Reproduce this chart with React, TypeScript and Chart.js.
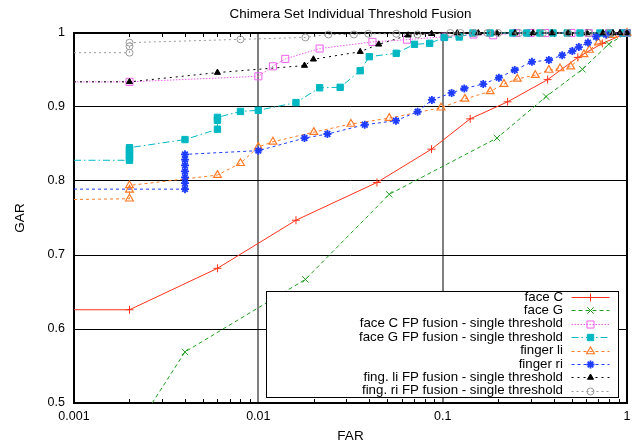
import React, { useEffect, useRef } from 'react';
import { Chart, registerables } from 'chart.js';

Chart.register(...registerables);

const FONT = '"Liberation Sans", Arial, Helvetica, sans-serif';

const TITLE = 'Chimera Set Individual Threshold Fusion';
const X_TITLE = 'FAR';
const Y_TITLE = 'GAR';
const X_MIN = 0.001;
const X_MAX = 1;
const Y_MIN = 0.5;
const Y_MAX = 1;
const Y_STEP = 0.1;
const X_TICK_VALUES = [
  0.001, 0.002, 0.003, 0.004, 0.005, 0.006, 0.007, 0.008, 0.009,
  0.01, 0.02, 0.03, 0.04, 0.05, 0.06, 0.07, 0.08, 0.09,
  0.1, 0.2, 0.3, 0.4, 0.5, 0.6, 0.7, 0.8, 0.9, 1,
];
const X_LABELED = [0.001, 0.01, 0.1, 1];
const X_GRID = [0.01, 0.1];

// face C
const faceC_FAR = [0.001, 0.002, 0.006, 0.016, 0.044, 0.087, 0.141, 0.225, 0.371, 0.541, 0.735, 1];
const faceC_GAR = [0.626, 0.626, 0.682, 0.747, 0.798, 0.843, 0.884, 0.907, 0.937, 0.967, 0.986, 1];

// face G
const faceG_FAR = [0.002, 0.004, 0.018, 0.0513, 0.197, 0.364, 0.573, 0.796, 1];
const faceG_GAR = [0.452, 0.569, 0.667, 0.782, 0.858, 0.914, 0.951, 0.985, 1];

// face C FP fusion
const faceCFP_FAR = [0.001, 0.002, 0.01, 0.012, 0.014, 0.0215, 0.0416, 0.064, 0.102, 0.147, 0.188, 0.25, 0.3, 0.36, 0.5, 0.62, 0.8, 0.95, 1];
const faceCFP_GAR = [0.934, 0.934, 0.9415, 0.955, 0.965, 0.979, 0.988, 0.991, 0.995, 0.998, 0.997, 1, 1, 1, 1, 1, 1, 1, 1];

// face G FP fusion
const faceGFP_FAR = [0.001, 0.002, 0.002, 0.002, 0.002, 0.002, 0.002, 0.004, 0.006, 0.006, 0.006, 0.008, 0.01, 0.016, 0.0215, 0.0278, 0.0357, 0.04, 0.056, 0.0703, 0.085, 0.102, 0.123, 0.146, 0.181, 0.24, 0.286, 0.337, 0.397, 0.474, 0.556, 0.712, 0.81, 0.95, 1];
const faceGFP_GAR = [0.828, 0.828, 0.831, 0.835, 0.838, 0.842, 0.845, 0.856, 0.87, 0.882, 0.886, 0.894, 0.8955, 0.906, 0.926, 0.9266, 0.949, 0.968, 0.9726, 0.9847, 0.986, 0.994, 0.9946, 1, 1, 1, 1, 1, 1, 1, 1, 1, 1, 1, 1];

// finger li
const fingerLi_FAR = [0.001, 0.002, 0.002, 0.002, 0.006, 0.008, 0.01, 0.012, 0.02, 0.0318, 0.0513, 0.098, 0.132, 0.181, 0.215, 0.254, 0.318, 0.377, 0.433, 0.495, 0.584, 0.625, 0.7, 0.84, 1];
const fingerLi_GAR = [0.775, 0.776, 0.788, 0.794, 0.808, 0.824, 0.846, 0.853, 0.866, 0.877, 0.885, 0.899, 0.911, 0.921, 0.931, 0.938, 0.943, 0.95, 0.952, 0.9545, 0.971, 0.977, 0.987, 0.997, 1];

// finger ri
const fingerRi_FAR = [0.001, 0.004, 0.004, 0.004, 0.004, 0.004, 0.004, 0.004, 0.01, 0.0178, 0.0237, 0.0378, 0.0558, 0.0731, 0.0874, 0.1118, 0.131, 0.166, 0.2018, 0.246, 0.305, 0.377, 0.445, 0.505, 0.548, 0.614, 0.68, 0.77, 1];
const fingerRi_GAR = [0.789, 0.789, 0.797, 0.805, 0.813, 0.821, 0.829, 0.836, 0.841, 0.858, 0.8635, 0.876, 0.8815, 0.8936, 0.9095, 0.919, 0.925, 0.931, 0.9396, 0.95, 0.961, 0.9635, 0.97, 0.9757, 0.981, 0.987, 0.995, 0.998, 1];

// fing. li FP fusion
const fingLiFP_FAR = [0.001, 0.002, 0.006, 0.0178, 0.0199, 0.0357, 0.045, 0.065, 0.087, 0.12, 0.156, 0.197, 0.247, 0.309, 0.392, 0.479, 0.607, 0.741, 0.84, 0.916, 1];
const fingLiFP_GAR = [0.934, 0.934, 0.9465, 0.956, 0.9645, 0.9747, 0.9847, 0.997, 0.999, 1, 1, 1, 1, 1, 1, 1, 1, 1, 1, 1, 1];

// fing. ri FP fusion
const fingRiFP_FAR = [0.001, 0.002, 0.002, 0.002, 0.008, 0.018, 0.024, 0.033, 0.0395, 0.056, 0.073, 0.11, 0.125, 0.148, 0.175, 0.2, 0.26, 0.35, 0.48, 0.62, 0.8, 1];
const fingRiFP_GAR = [0.9734, 0.9734, 0.982, 0.987, 0.9914, 0.994, 0.998, 0.998, 0.999, 0.999, 0.998, 1, 1, 1, 1, 1, 1, 1, 1, 1, 1, 1];

type Series = {
  label: string;
  far: number[];
  gar: number[];
  color: string;
  dash: number[];
  style: string;
  r: number;
  filled: boolean;
  pw: number;
};

const SERIES: Series[] = [
  { label: 'face C', far: faceC_FAR, gar: faceC_GAR, color: '#ff3219', dash: [], style: 'cross', r: 4, filled: false, pw: 1 },
  { label: 'face G', far: faceG_FAR, gar: faceG_GAR, color: '#1c9e1c', dash: [4, 3], style: 'crossRot', r: 4.5, filled: false, pw: 1 },
  { label: 'face C FP fusion - single threshold', far: faceCFP_FAR, gar: faceCFP_GAR, color: '#f060f0', dash: [1.5, 1.5], style: 'rect', r: 5, filled: false, pw: 1 },
  { label: 'face G FP fusion - single threshold', far: faceGFP_FAR, gar: faceGFP_GAR, color: '#00b8c2', dash: [7, 3, 1.5, 3], style: 'rect', r: 4.5, filled: true, pw: 1 },
  { label: 'finger li', far: fingerLi_FAR, gar: fingerLi_GAR, color: '#ff7a26', dash: [3, 3], style: 'triangle', r: 4.5, filled: false, pw: 1.2 },
  { label: 'finger ri', far: fingerRi_FAR, gar: fingerRi_GAR, color: '#1e3cff', dash: [3, 3], style: 'star', r: 4, filled: false, pw: 1.8 },
  { label: 'fing. li FP fusion - single threshold', far: fingLiFP_FAR, gar: fingLiFP_GAR, color: '#000000', dash: [2, 4], style: 'triangle', r: 3.5, filled: true, pw: 1 },
  { label: 'fing. ri FP fusion - single threshold', far: fingRiFP_FAR, gar: fingRiFP_GAR, color: '#9a9a9a', dash: [2, 3], style: 'circle', r: 3.5, filled: false, pw: 1 },
];

function isIn(v: number, arr: number[]) {
  return arr.some((a) => Math.abs(a - v) < a * 1e-6);
}

function drawMarker(ctx: CanvasRenderingContext2D, s: Series, x: number, y: number) {
  const r = s.r;
  ctx.save();
  ctx.setLineDash([]);
  ctx.strokeStyle = s.color;
  ctx.fillStyle = s.color;
  ctx.lineWidth = s.pw;
  ctx.beginPath();
  if (s.style === 'cross' || s.style === 'star') {
    ctx.moveTo(x - r, y);
    ctx.lineTo(x + r, y);
    ctx.moveTo(x, y - r);
    ctx.lineTo(x, y + r);
  }
  if (s.style === 'crossRot' || s.style === 'star') {
    const d = r * Math.SQRT1_2;
    ctx.moveTo(x - d, y - d);
    ctx.lineTo(x + d, y + d);
    ctx.moveTo(x - d, y + d);
    ctx.lineTo(x + d, y - d);
  }
  if (s.style === 'cross' || s.style === 'crossRot' || s.style === 'star') {
    ctx.stroke();
  } else if (s.style === 'rect') {
    const h = r * Math.SQRT1_2;
    ctx.rect(x - h, y - h, 2 * h, 2 * h);
    if (s.filled) ctx.fill();
    ctx.stroke();
  } else if (s.style === 'triangle') {
    ctx.moveTo(x, y - r);
    ctx.lineTo(x + r * 0.866, y + r * 0.5);
    ctx.lineTo(x - r * 0.866, y + r * 0.5);
    ctx.closePath();
    if (s.filled) ctx.fill();
    ctx.stroke();
  } else if (s.style === 'circle') {
    ctx.arc(x, y, r, 0, Math.PI * 2);
    if (s.filled) ctx.fill();
    ctx.stroke();
  }
  ctx.restore();
}

const framePlugin = {
  id: 'frameTicks',
  beforeDatasetsDraw(chart: any) {
    const { ctx, chartArea: a, scales } = chart;
    const xs = scales.x;
    ctx.save();
    ctx.strokeStyle = '#000';
    ctx.lineWidth = 1;
    ctx.setLineDash([]);
    ctx.beginPath();
    for (const v of X_TICK_VALUES) {
      if (isIn(v, X_LABELED)) continue;
      const px = Math.round(xs.getPixelForValue(v)) + 0.5;
      ctx.moveTo(px, a.bottom);
      ctx.lineTo(px, a.bottom - 4);
      ctx.moveTo(px, a.top);
      ctx.lineTo(px, a.top + 4);
    }
    ctx.stroke();
    ctx.lineWidth = 2;
    ctx.strokeRect(a.left, a.top, a.right - a.left, a.bottom - a.top);
    ctx.restore();
  },
};

const legendPlugin = {
  id: 'boxLegend',
  afterDatasetsDraw(chart: any) {
    const { ctx, chartArea: a } = chart;
    const right = a.right - 9;
    const bottom = a.bottom - 6;
    const w = 352;
    const h = 106;
    const left = right - w;
    const top = bottom - h;
    ctx.save();
    ctx.fillStyle = '#ffffff';
    ctx.fillRect(left, top, w, h);
    ctx.strokeStyle = '#000';
    ctx.lineWidth = 1;
    ctx.setLineDash([]);
    ctx.strokeRect(left + 0.5, top + 0.5, w, h);
    ctx.font = '13.3px ' + FONT;
    ctx.textAlign = 'right';
    ctx.textBaseline = 'middle';
    SERIES.forEach((s, i) => {
      const y = top + 6 + i * 13.4;
      ctx.fillStyle = '#000';
      ctx.fillText(s.label, right - 55, y);
      ctx.save();
      ctx.strokeStyle = s.color;
      ctx.lineWidth = 1;
      ctx.setLineDash(s.dash);
      ctx.beginPath();
      ctx.moveTo(right - 46.5, Math.round(y) + 0.5);
      ctx.lineTo(right - 8.5, Math.round(y) + 0.5);
      ctx.stroke();
      ctx.restore();
      drawMarker(ctx, s, right - 27.5, Math.round(y) + 0.5);
    });
    ctx.restore();
  },
};

export default function App() {
  const ref = useRef<HTMLCanvasElement | null>(null);

  useEffect(() => {
    if (!ref.current) return;
    Chart.defaults.font.family = FONT;
    Chart.defaults.color = '#000';
    const datasets = SERIES.map((s, i) => ({
      label: s.label,
      data: s.far.map((x, k) => ({ x, y: s.gar[k] })),
      borderColor: s.color,
      backgroundColor: s.color,
      borderWidth: 1,
      borderDash: s.dash,
      pointStyle: s.style,
      pointRadius: (c: any) => (c.raw && c.raw.x <= X_MIN * 1.0001 ? 0 : s.r),
      pointHoverRadius: 0,
      pointBorderColor: s.color,
      pointBackgroundColor: s.filled ? s.color : 'rgba(255,255,255,0)',
      pointBorderWidth: s.pw,
      tension: 0,
      fill: false,
      order: -i,
      clip: { left: 0, top: 6, right: 6, bottom: 0 },
    }));

    const chart = new Chart(ref.current, {
      type: 'line',
      data: { datasets },
      plugins: [framePlugin, legendPlugin],
      options: {
        responsive: false,
        animation: false,
        devicePixelRatio: 1,
        layout: { padding: { left: 0, right: 14, top: 0, bottom: 0 } },
        events: [],
        plugins: {
          legend: { display: false },
          tooltip: { enabled: false },
          title: {
            display: true,
            text: TITLE,
            color: '#000',
            fullSize: false,
            font: { size: 13.4, family: FONT, weight: 'normal' },
            padding: { top: 6, bottom: 10.92 },
          },
        },
        scales: {
          x: {
            type: 'logarithmic',
            min: X_MIN,
            max: X_MAX,
            afterBuildTicks: (scale: any) => {
              scale.ticks = X_TICK_VALUES.map((v) => ({ value: v }));
            },
            afterFit: (scale: any) => {
              scale.height = 41;
            },
            ticks: {
              autoSkip: false,
              maxRotation: 0,
              minRotation: 0,
              padding: 6,
              color: '#000',
              font: { size: 12.5, family: FONT },
              callback: (v: any) => (isIn(Number(v), X_LABELED) ? String(Number(v)) : ''),
            },
            grid: {
              drawTicks: false,
              lineWidth: 2,
              color: (c: any) => (c.tick && isIn(c.tick.value, X_GRID) ? '#808080' : 'rgba(0,0,0,0)'),
            },
            border: { display: false },
            title: {
              display: true,
              text: X_TITLE,
              color: '#000',
              font: { size: 13.5, family: FONT },
              padding: { top: 0, bottom: 0 },
            },
          },
          y: {
            type: 'linear',
            min: Y_MIN,
            max: Y_MAX,
            afterFit: (scale: any) => {
              scale.width = 74;
            },
            ticks: {
              stepSize: Y_STEP,
              padding: 9,
              color: '#000',
              font: { size: 12.5, family: FONT },
              callback: (v: any) => String(Math.round(Number(v) * 10) / 10),
            },
            grid: {
              drawTicks: false,
              lineWidth: 1,
              color: (c: any) =>
                c.tick && c.tick.value > Y_MIN + 0.01 && c.tick.value < Y_MAX - 0.01 ? '#000' : 'rgba(0,0,0,0)',
            },
            border: { display: false },
            title: {
              display: true,
              text: Y_TITLE,
              color: '#000',
              font: { size: 13.5, family: FONT },
              padding: { top: 12, bottom: 0 },
            },
          },
        },
      } as any,
    });
    return () => chart.destroy();
  }, []);

  return (
    <div style={{ position: 'absolute', left: 0, top: 0, width: 641, height: 444, background: '#fff' }}>
      <canvas ref={ref} width={641} height={444} style={{ display: 'block', width: 641, height: 444 }} />
    </div>
  );
}
